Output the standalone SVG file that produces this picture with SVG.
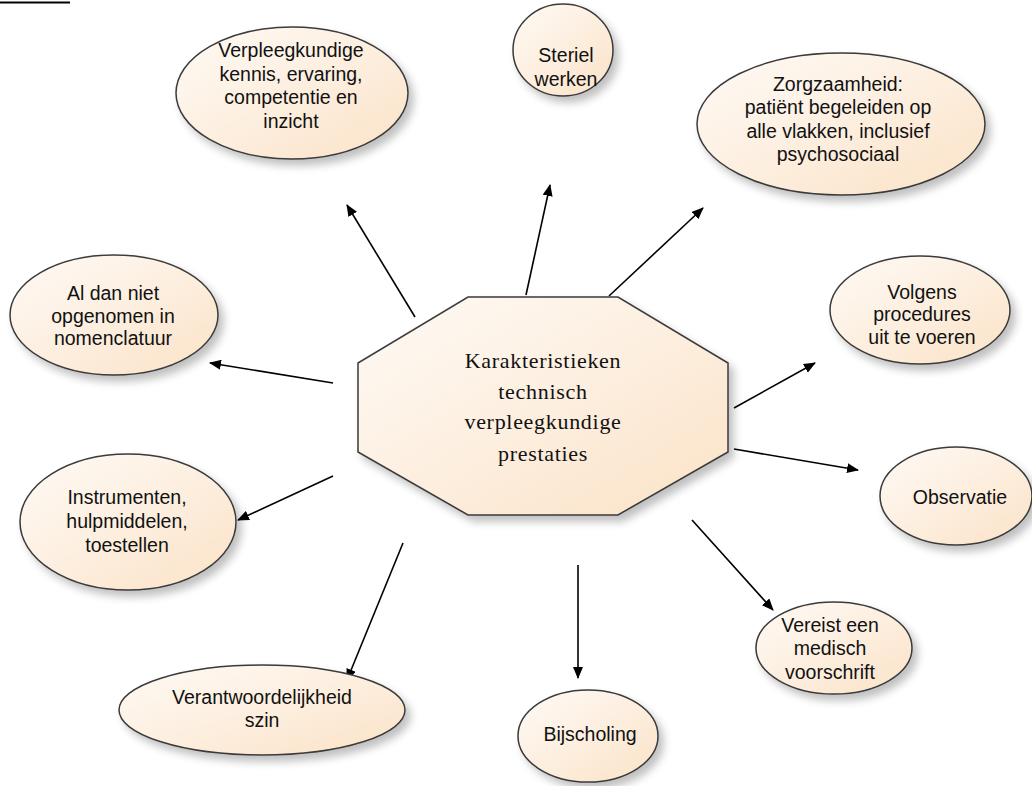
<svg xmlns="http://www.w3.org/2000/svg" width="1032" height="786" viewBox="0 0 1032 786">
  <defs>
    <linearGradient id="fillGrad" x1="0" y1="0" x2="1" y2="1">
      <stop offset="0" stop-color="#fefaf5"/>
      <stop offset="0.45" stop-color="#fdf0e2"/>
      <stop offset="1" stop-color="#fbe2c6"/>
    </linearGradient>
    <filter id="shadow" x="-20%" y="-20%" width="150%" height="150%">
      <feGaussianBlur in="SourceAlpha" stdDeviation="4"/>
      <feOffset dx="5" dy="6" result="blur"/>
      <feComponentTransfer>
        <feFuncA type="linear" slope="0.25"/>
      </feComponentTransfer>
      <feMerge>
        <feMergeNode/>
        <feMergeNode in="SourceGraphic"/>
      </feMerge>
    </filter>
    <marker id="arrow" viewBox="0 0 12 10" refX="11" refY="5" markerWidth="12" markerHeight="10" markerUnits="userSpaceOnUse" orient="auto">
      <path d="M0,0 L12,5 L0,10 Z" fill="#000"/>
    </marker>
  </defs>
  <style>
    .shape { fill: url(#fillGrad); stroke: #3a3a3a; stroke-width: 1.5; filter: url(#shadow); }
    .lbl { font-family: "Liberation Sans", Arial, sans-serif; font-size: 19.5px; fill: #111; text-anchor: middle; }
    .hub { font-family: "Liberation Serif", "Times New Roman", serif; font-size: 22px; letter-spacing: 0.7px; fill: #111; text-anchor: middle; }
    .conn { stroke: #000; stroke-width: 1.6; fill: none; marker-end: url(#arrow); }
  </style>
  <rect width="1032" height="786" fill="#ffffff"/>

  <!-- heading underline at the top edge -->
  <line x1="0" y1="2.5" x2="70" y2="2.5" stroke="#000" stroke-width="2"/>

  <!-- connectors from the central octagon -->
  <g id="connectors">
    <line class="conn" x1="415" y1="317" x2="347" y2="205"/>
    <line class="conn" x1="526" y1="295" x2="550" y2="185"/>
    <line class="conn" x1="609" y1="296" x2="703" y2="208"/>
    <line class="conn" x1="333" y1="383" x2="210" y2="363"/>
    <line class="conn" x1="734" y1="408" x2="815" y2="363"/>
    <line class="conn" x1="734" y1="449" x2="858" y2="470"/>
    <line class="conn" x1="333" y1="476" x2="238" y2="520"/>
    <line class="conn" x1="403" y1="543" x2="347" y2="680"/>
    <line class="conn" x1="578" y1="565" x2="578" y2="678"/>
    <line class="conn" x1="692" y1="520" x2="773" y2="610"/>
  </g>

  <g id="hub">
    <polygon class="shape" points="468,297 618,297 728,363 728,452 618,515 468,515 358,452 358,363"/>
    <text class="hub" x="543" y="368">Karakteristieken</text>
    <text class="hub" x="543" y="399">technisch</text>
    <text class="hub" x="543" y="429">verpleegkundige</text>
    <text class="hub" x="543" y="461">prestaties</text>
  </g>

  <g id="kennis">
    <ellipse class="shape" cx="292" cy="93" rx="116" ry="66"/>
    <text class="lbl" x="291" y="57">Verpleegkundige</text>
    <text class="lbl" x="291" y="81">kennis, ervaring,</text>
    <text class="lbl" x="291" y="104">competentie en</text>
    <text class="lbl" x="291" y="128">inzicht</text>
  </g>

  <g id="steriel">
    <ellipse class="shape" cx="563" cy="50" rx="50" ry="46"/>
    <text class="lbl" x="566" y="62">Steriel</text>
    <text class="lbl" x="566" y="86">werken</text>
  </g>

  <g id="zorgzaamheid">
    <ellipse class="shape" cx="841" cy="124" rx="144" ry="71"/>
    <text class="lbl" x="838" y="91">Zorgzaamheid:</text>
    <text class="lbl" x="838" y="114">patiënt begeleiden op</text>
    <text class="lbl" x="838" y="138">alle vlakken, inclusief</text>
    <text class="lbl" x="838" y="161">psychosociaal</text>
  </g>

  <g id="nomenclatuur">
    <ellipse class="shape" cx="114" cy="315" rx="104" ry="60"/>
    <text class="lbl" x="113" y="300">Al dan niet</text>
    <text class="lbl" x="113" y="323">opgenomen in</text>
    <text class="lbl" x="113" y="345">nomenclatuur</text>
  </g>

  <g id="procedures">
    <ellipse class="shape" cx="920" cy="310" rx="90" ry="54"/>
    <text class="lbl" x="922" y="299">Volgens</text>
    <text class="lbl" x="922" y="321">procedures</text>
    <text class="lbl" x="922" y="344">uit te voeren</text>
  </g>

  <g id="observatie">
    <ellipse class="shape" cx="956" cy="496" rx="76" ry="49"/>
    <text class="lbl" x="960" y="504">Observatie</text>
  </g>

  <g id="instrumenten">
    <ellipse class="shape" cx="128" cy="522" rx="108" ry="68"/>
    <text class="lbl" x="127" y="504">Instrumenten,</text>
    <text class="lbl" x="127" y="528">hulpmiddelen,</text>
    <text class="lbl" x="127" y="552">toestellen</text>
  </g>

  <g id="verantwoordelijkheid">
    <ellipse class="shape" cx="262" cy="710" rx="143" ry="45"/>
    <text class="lbl" x="262" y="704">Verantwoordelijkheid</text>
    <text class="lbl" x="262" y="727">szin</text>
  </g>

  <g id="bijscholing">
    <ellipse class="shape" cx="588" cy="736" rx="70" ry="46"/>
    <text class="lbl" x="590" y="741">Bijscholing</text>
  </g>

  <g id="voorschrift">
    <ellipse class="shape" cx="834" cy="648" rx="78" ry="46"/>
    <text class="lbl" x="830" y="632">Vereist een</text>
    <text class="lbl" x="830" y="655">medisch</text>
    <text class="lbl" x="830" y="679">voorschrift</text>
  </g>
</svg>
